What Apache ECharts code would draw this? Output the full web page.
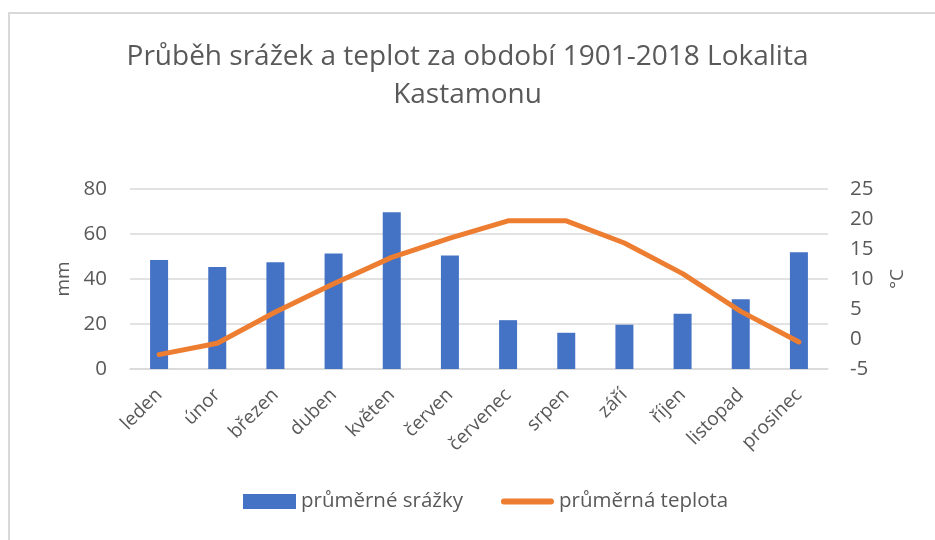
<!DOCTYPE html>
<html lang="cs">
<head>
    <meta charset="UTF-8">
    <title>Kastamonu</title>
    <style>
        html, body { margin: 0; padding: 0; background: #fff; }
    </style>
</head>
<body>
<div id="container" style="width: 935px; height: 540px"></div>
<script type="text/javascript" src="https://cdn.jsdelivr.net/npm/echarts@6/dist/echarts.min.js"></script>
<script type="text/javascript">
    var months = ['leden', 'únor', 'březen', 'duben', 'květen', 'červen',
        'červenec', 'srpen', 'září', 'říjen', 'listopad', 'prosinec'];
    var srazky = [48.4, 45.3, 47.5, 51.3, 69.7, 50.4, 21.7, 16.1, 19.7, 24.6, 31.0, 51.9];
    var teplota = [-2.6, -0.7, 4.5, 9.2, 13.6, 16.8, 19.7, 19.7, 16.0, 10.9, 4.6, -0.5];
    var mmTicks = [0, 80, 20];
    var tTicks = [-5, 25, 5];

    var font = '"Open Sans", Lato, sans-serif';
    var grey = '#595959';
    // tlustá čára do legendy (s neviditelnými rohy, aby se nenatáhla na výšku)
    var lineIcon = 'path://M0,0 L0.01,0 M3,4.5 L50,4.5 A3,3 0 0 1 50,10.5 L3,10.5 A3,3 0 0 1 3,4.5 Z M53,15 L52.99,15';

    var option = {
        backgroundColor: '#fff',
        textStyle: {fontFamily: font},
        title: {
            text: 'Průběh srážek a teplot za období 1901-2018 Lokalita\nKastamonu',
            left: 'center',
            top: 33,
            textStyle: {fontSize: 28, fontWeight: 'normal', color: grey, lineHeight: 38, fontFamily: font}
        },
        legend: {
            bottom: 23,
            left: 238,
            itemGap: 38,
            itemWidth: 53,
            itemHeight: 15,
            textStyle: {fontSize: 20.5, color: grey, fontFamily: font},
            data: [
                {name: 'průměrné srážky', icon: 'rect'},
                {name: 'průměrná teplota', icon: lineIcon, itemStyle: {color: '#ed7d31', borderWidth: 0}}
            ]
        },
        graphic: [{
            type: 'rect',
            shape: {x: 9, y: 13, width: 940, height: 540},
            style: {fill: 'none', stroke: '#d9d9d9', lineWidth: 2},
            silent: true
        }],
        grid: {left: 130, right: 107, top: 189, bottom: 171},
        xAxis: {
            type: 'category',
            data: months,
            axisTick: {show: false},
            axisLine: {lineStyle: {color: '#d9d9d9', width: 1.5}},
            axisLabel: {rotate: 45, fontSize: 19, color: grey, margin: 23, interval: 0}
        },
        yAxis: [
            {
                type: 'value',
                name: 'mm',
                nameLocation: 'middle',
                nameGap: 57,
                nameTextStyle: {fontSize: 19, color: grey},
                min: mmTicks[0], max: mmTicks[1], interval: mmTicks[2],
                axisLabel: {fontSize: 20.5, color: grey, margin: 23},
                splitLine: {lineStyle: {color: '#d9d9d9', width: 1.5}},
                axisLine: {show: false}
            },
            {
                type: 'value',
                name: '°C',
                nameLocation: 'middle',
                nameRotate: 90,
                nameGap: 60,
                nameTextStyle: {fontSize: 19, color: grey},
                min: tTicks[0], max: tTicks[1], interval: tTicks[2],
                axisLabel: {fontSize: 20.5, color: grey, margin: 22},
                splitLine: {show: false},
                axisLine: {show: false}
            }
        ],
        series: [
            {
                name: 'průměrné srážky',
                type: 'bar',
                data: srazky,
                barWidth: 18,
                itemStyle: {color: '#4472c4'}
            },
            {
                name: 'průměrná teplota',
                type: 'line',
                yAxisIndex: 1,
                data: teplota,
                symbol: 'none',
                lineStyle: {color: '#ed7d31', width: 5, cap: 'round', join: 'round'},
                itemStyle: {color: '#ed7d31'}
            }
        ]
    };

    var myChart = echarts.init(document.getElementById('container'));
    myChart.setOption(option);
</script>
</body>
</html>
